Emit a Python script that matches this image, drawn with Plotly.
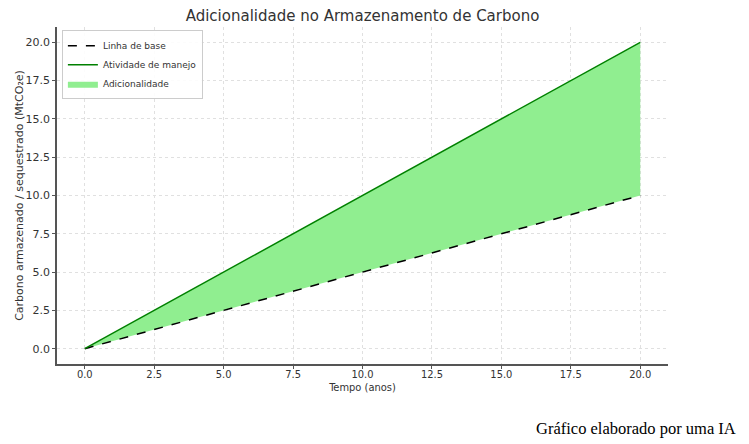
import plotly.graph_objects as go

anos = [0, 5, 10, 15, 20]
linha_base = [0, 2.5, 5, 7.5, 10]
atividade_manejo = [0, 5, 10, 15, 20]
x_ticks = [0, 2.5, 5, 7.5, 10, 12.5, 15, 17.5, 20]
y_ticks = [0, 2.5, 5, 7.5, 10, 12.5, 15, 17.5, 20]

fig = go.Figure()
fig.add_trace(go.Scatter(x=anos, y=linha_base, mode="lines", line=dict(width=0),
                         showlegend=False, hoverinfo="skip"))
fig.add_trace(go.Scatter(x=anos, y=atividade_manejo, mode="lines", line=dict(width=0),
                         fill="tonexty", fillcolor="#90EE90", name="Adicionalidade",
                         legendrank=3))
fig.add_trace(go.Scatter(x=anos, y=linha_base, mode="lines",
                         line=dict(color="black", dash="dash", width=1.5),
                         name="Linha de base", legendrank=1))
fig.add_trace(go.Scatter(x=anos, y=atividade_manejo, mode="lines",
                         line=dict(color="green", width=1.5),
                         name="Atividade de manejo", legendrank=2))

axis_common = dict(showgrid=True, gridcolor="#e0e0e0", griddash="dot", gridwidth=1,
                   zeroline=False, showline=True, linecolor="#555555", linewidth=1.5,
                   ticks="outside", ticklen=3, tickcolor="#555555", automargin=False,
                   mirror=False)

fig.update_layout(
    width=749, height=444,
    margin=dict(l=57, r=81, t=27, b=80),
    paper_bgcolor="white", plot_bgcolor="white",
    font=dict(family="DejaVu Sans", color="#333333"),
    title=dict(text="Adicionalidade no Armazenamento de Carbono", x=0.484, xanchor="center",
               y=0.965, yanchor="middle", font=dict(size=15, color="#333333"), automargin=False),
    xaxis=dict(range=[-1, 21], tickvals=x_ticks, ticktext=[f"{v:.1f}" for v in x_ticks],
               ticklabelstandoff=-4,
               tickfont=dict(size=11, color="#333333", family="DejaVu Sans Condensed, DejaVu Sans"),
               title=dict(text="Tempo (anos)", font=dict(size=11, family="DejaVu Sans Condensed, DejaVu Sans"),
                          standoff=2), **axis_common),
    yaxis=dict(range=[-1, 21], tickvals=y_ticks, ticktext=[f"{v:.1f}" for v in y_ticks],
               tickfont=dict(size=11, color="#333333"),
               title=dict(text="Carbono armazenado / sequestrado (MtCO₂e)", font=dict(size=11), standoff=0),
               **axis_common),
    legend=dict(x=0.008, y=0.99, xanchor="left", yanchor="top", bgcolor="rgba(255,255,255,0.9)",
                bordercolor="#cccccc", borderwidth=1, font=dict(size=9, color="#333333"),
                traceorder="normal", tracegroupgap=0, itemwidth=30),
    annotations=[dict(text="Gráfico elaborado por uma IA", xref="paper", yref="paper",
                      x=1 + 70/611, y=-0.19, xanchor="right", yanchor="middle", showarrow=False,
                      font=dict(family="Liberation Serif", size=16.5, color="black"))],
)

fig.write_html("out.html", config={"displayModeBar": False},
               post_script="document.body.style.margin='0';")
